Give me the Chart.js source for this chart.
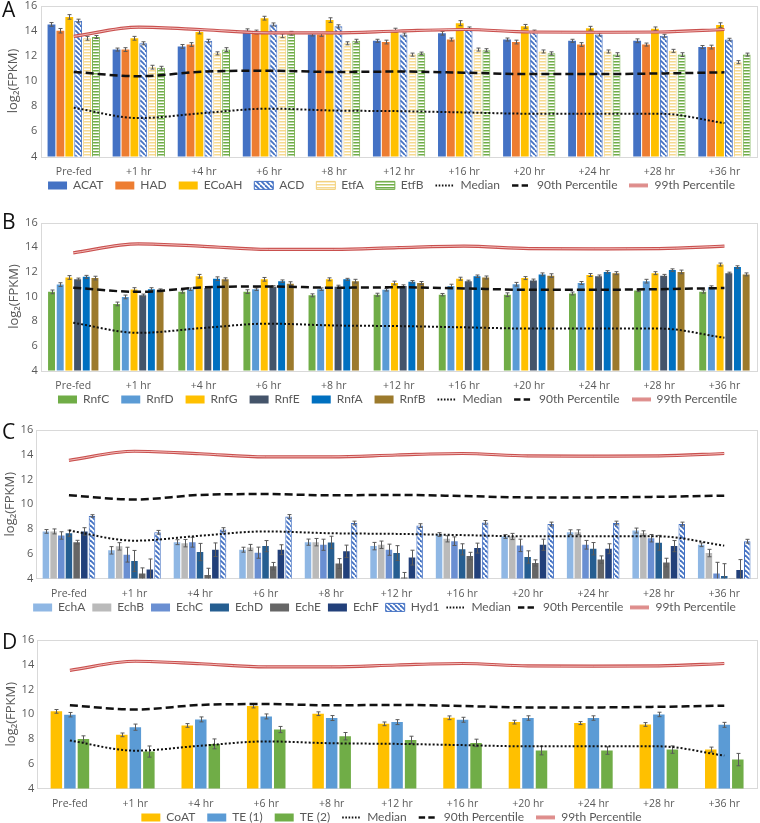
<!DOCTYPE html>
<html>
<head>
<meta charset="utf-8">
<script src="https://cdn.jsdelivr.net/npm/chart.js@4.4.1/dist/chart.umd.min.js"></script>
<style>
  body { margin: 0; background: #fff; width: 760px; height: 823px; position: relative; overflow: hidden; }
  .panel { position: absolute; left: 0; width: 760px; }
  .panel canvas { display: block; }
  .letter { position: absolute; left: 2px; font: 21px "Open Sans", sans-serif; line-height: 21px; color: #111; }
</style>
</head>
<body>
<div class="panel" style="top:-5px"><canvas id="chartA" width="760" height="226"></canvas></div>
<div class="panel" style="top:205px"><canvas id="chartB" width="760" height="230"></canvas></div>
<div class="panel" style="top:410px"><canvas id="chartC" width="760" height="228"></canvas></div>
<div class="panel" style="top:615px"><canvas id="chartD" width="760" height="238"></canvas></div>
<div class="letter" style="top:-1px">A</div>
<div class="letter" style="top:211px">B</div>
<div class="letter" style="top:421px">C</div>
<div class="letter" style="top:631px">D</div>
<script>
// Time points (x axis)
const timePoints = ['Pre-fed', '+1 hr', '+4 hr', '+6 hr', '+8 hr', '+12 hr', '+16 hr', '+20 hr', '+24 hr', '+28 hr', '+36 hr'];
const yTicks = [4, 6, 8, 10, 12, 14, 16];

// Genome-wide reference lines (same in every panel)
const median = [7.87, 7.05, 7.45, 7.8, 7.65, 7.6, 7.5, 7.4, 7.4, 7.4, 6.65];
const pct90 = [10.72, 10.38, 10.75, 10.82, 10.72, 10.75, 10.66, 10.55, 10.55, 10.6, 10.69];
const pct99 = [13.55, 14.28, 14.08, 13.83, 13.83, 13.98, 14.1, 13.9, 13.88, 13.9, 14.1];

// Panel A
const acat = [14.5, 12.5, 12.75, 14.0, 13.7, 13.2, 13.8, 13.3, 13.2, 13.2, 12.7];
const had = [14.0, 12.5, 12.9, 13.9, 13.7, 13.1, 13.3, 13.1, 12.9, 12.9, 12.7];
const ecoah = [15.1, 13.4, 13.9, 15.0, 14.85, 14.05, 14.6, 14.35, 14.2, 14.15, 14.45];
const acd = [14.8, 13.0, 13.2, 14.5, 14.35, 13.7, 14.2, 13.95, 13.7, 13.6, 13.3];
const etfA = [13.4, 11.1, 12.2, 13.6, 13.0, 12.1, 12.5, 12.35, 12.35, 12.4, 11.5];
const etfB = [13.5, 11.05, 12.5, 13.8, 13.2, 12.2, 12.45, 12.2, 12.1, 12.1, 12.1];
const acatErr = [0.15, 0.12, 0.15, 0.15, 0.12, 0.12, 0.15, 0.12, 0.12, 0.15, 0.12];
const hadErr = [0.18, 0.15, 0.15, 0.15, 0.15, 0.15, 0.12, 0.15, 0.15, 0.12, 0.15];
const ecoahErr = [0.18, 0.15, 0.15, 0.15, 0.18, 0.15, 0.2, 0.15, 0.15, 0.15, 0.18];
const acdErr = [0.12, 0.12, 0.12, 0.12, 0.12, 0.12, 0.1, 0.1, 0.12, 0.12, 0.1];
const etfAErr = [0.15, 0.15, 0.12, 0.15, 0.12, 0.12, 0.12, 0.12, 0.12, 0.12, 0.12];
const etfBErr = [0.12, 0.12, 0.15, 0.15, 0.12, 0.1, 0.12, 0.12, 0.15, 0.15, 0.12];

// Panel B
const rnfC = [10.38, 9.4, 10.4, 10.4, 10.1, 10.15, 10.15, 10.15, 10.25, 10.5, 10.4];
const rnfD = [10.97, 9.97, 10.6, 10.6, 10.6, 10.55, 10.85, 11.0, 11.1, 11.25, 10.75];
const rnfG = [11.55, 10.57, 11.65, 11.4, 11.4, 11.1, 11.45, 11.5, 11.75, 11.9, 12.6];
const rnfE = [11.4, 10.1, 10.7, 10.8, 10.8, 10.85, 11.25, 11.3, 11.65, 11.7, 11.9];
const rnfA = [11.6, 10.6, 11.45, 11.25, 11.4, 11.2, 11.65, 11.8, 12.0, 12.15, 12.4];
const rnfB = [11.5, 10.5, 11.4, 11.05, 11.25, 11.1, 11.55, 11.7, 11.9, 12.0, 11.8];
const rnfCErr = [0.15, 0.15, 0.12, 0.15, 0.12, 0.12, 0.1, 0.15, 0.12, 0.1, 0.12];
const rnfDErr = [0.15, 0.15, 0.1, 0.1, 0.1, 0.1, 0.15, 0.15, 0.12, 0.15, 0.12];
const rnfGErr = [0.15, 0.15, 0.15, 0.15, 0.12, 0.15, 0.12, 0.12, 0.12, 0.12, 0.12];
const rnfEErr = [0.1, 0.1, 0.1, 0.08, 0.12, 0.1, 0.08, 0.12, 0.1, 0.1, 0.08];
const rnfAErr = [0.12, 0.12, 0.15, 0.1, 0.08, 0.1, 0.1, 0.12, 0.1, 0.1, 0.1];
const rnfBErr = [0.15, 0.12, 0.12, 0.15, 0.15, 0.12, 0.12, 0.15, 0.12, 0.15, 0.12];

// Panel C
const echA = [7.8, 6.27, 6.93, 6.32, 6.93, 6.61, 7.55, 7.39, 7.73, 7.87, 6.72];
const echB = [7.8, 6.59, 6.85, 6.5, 6.93, 6.72, 7.2, 7.39, 7.73, 7.65, 6.05];
const echC = [7.47, 5.92, 6.93, 6.08, 6.72, 6.32, 7.01, 6.67, 6.72, 7.25, 4.4];
const echD = [7.65, 5.41, 6.13, 6.61, 6.91, 6.05, 6.35, 5.73, 6.4, 6.88, 4.19];
const echE = [6.93, 4.4, 4.27, 4.99, 5.2, 4.08, 5.81, 5.25, 5.52, 5.28, 4.0];
const echF = [7.8, 4.72, 6.32, 6.32, 6.19, 5.68, 6.45, 6.72, 6.4, 6.61, 4.67];
const hyd1 = [9.05, 7.73, 7.95, 9.01, 8.48, 8.27, 8.53, 8.4, 8.48, 8.4, 7.01];
const echAErr = [0.15, 0.3, 0.2, 0.2, 0.25, 0.3, 0.15, 0.15, 0.2, 0.2, 0.15];
const echBErr = [0.2, 0.3, 0.3, 0.25, 0.3, 0.3, 0.25, 0.25, 0.2, 0.2, 0.3];
const echCErr = [0.3, 0.6, 0.4, 0.45, 0.45, 0.45, 0.35, 0.5, 0.35, 0.3, 0.9];
const echDErr = [0.25, 0.85, 0.7, 0.45, 0.5, 0.6, 0.45, 0.5, 0.5, 0.6, 1.0];
const echEErr = [0.15, 0.45, 0.55, 0.3, 0.4, 0.4, 0.3, 0.25, 0.3, 0.35, 0];
const echFErr = [0.3, 0.85, 0.55, 0.4, 0.5, 0.6, 0.4, 0.45, 0.4, 0.45, 0.85];
const hyd1Err = [0.1, 0.15, 0.15, 0.15, 0.15, 0.15, 0.15, 0.15, 0.15, 0.15, 0.15];

// Panel D
const coat = [10.23, 8.33, 9.09, 10.66, 10.04, 9.22, 9.71, 9.36, 9.28, 9.17, 7.14];
const te1 = [9.96, 8.95, 9.58, 9.82, 9.69, 9.36, 9.55, 9.69, 9.69, 9.98, 9.14];
const te2 = [8.0, 6.98, 7.6, 8.76, 8.22, 7.92, 7.68, 7.06, 7.06, 7.14, 6.33];
const coatErr = [0.15, 0.15, 0.15, 0.15, 0.15, 0.15, 0.15, 0.15, 0.12, 0.15, 0.2];
const te1Err = [0.18, 0.25, 0.2, 0.2, 0.2, 0.2, 0.2, 0.18, 0.18, 0.18, 0.2];
const te2Err = [0.25, 0.45, 0.4, 0.25, 0.3, 0.3, 0.3, 0.35, 0.3, 0.3, 0.5];

Chart.defaults.font.family = '"Open Sans", sans-serif';
Chart.defaults.color = '#595959';

// hatch fills
function diagPattern(color) {
  const c = document.createElement('canvas');
  c.width = 5; c.height = 5;
  const g = c.getContext('2d');
  g.fillStyle = '#fff';
  g.fillRect(0, 0, 5, 5);
  g.strokeStyle = color;
  g.lineWidth = 1.8;
  for (let k = -5; k <= 5; k += 5) {
    g.beginPath(); g.moveTo(k, 0); g.lineTo(k + 5, 5); g.stroke();
  }
  return g.createPattern(c, 'repeat');
}
function stripePattern(color) {
  const c = document.createElement('canvas');
  c.width = 4; c.height = 3;
  const g = c.getContext('2d');
  g.fillStyle = '#fff';
  g.fillRect(0, 0, 4, 3);
  g.fillStyle = color;
  g.fillRect(0, 0, 4, 1.5);
  return g.createPattern(c, 'repeat');
}
// legend sample for the red double line
function doubleLineIcon() {
  const c = document.createElement('canvas');
  c.width = 19; c.height = 6;
  const g = c.getContext('2d');
  g.strokeStyle = '#C9504E'; g.lineWidth = 3.2;
  g.beginPath(); g.moveTo(0, 3); g.lineTo(19, 3); g.stroke();
  g.strokeStyle = '#F6C9C8'; g.lineWidth = 1;
  g.beginPath(); g.moveTo(0, 3); g.lineTo(19, 3); g.stroke();
  return c;
}
const redIcon = doubleLineIcon();

function bar(label, data, err, color, pattern, border) {
  return {
    type: 'bar', label: label, data: data, errors: err, order: 1,
    backgroundColor: pattern || color,
    borderColor: border || color,
    borderWidth: border ? 1 : 0
  };
}

function refLines() {
  return [
    { type: 'line', label: 'Median', data: median, order: 0, borderColor: '#111', borderWidth: 2,
      borderDash: [2, 2], pointRadius: 0, cubicInterpolationMode: 'monotone', fill: false },
    { type: 'line', label: '90th Percentile', data: pct90, order: 0, borderColor: '#111', borderWidth: 2.5,
      borderDash: [8, 4], pointRadius: 0, cubicInterpolationMode: 'monotone', fill: false },
    { type: 'line', label: '99th Percentile', data: pct99, order: 0, borderColor: '#C9504E', borderWidth: 3.2,
      pointRadius: 0, cubicInterpolationMode: 'monotone', fill: false, icon: redIcon },
    { type: 'line', label: '99 inner', data: pct99, order: -1, borderColor: '#F6C9C8', borderWidth: 0.9,
      pointRadius: 0, cubicInterpolationMode: 'monotone', fill: false, noLegend: true }
  ];
}

// error bars drawn through the y scale
const errorBars = {
  id: 'errorBars',
  afterDatasetDraw(chart, args) {
    const ds = chart.data.datasets[args.index];
    if (!ds.errors) return;
    const y = chart.scales.y;
    const ctx = chart.ctx;
    ctx.save();
    ctx.strokeStyle = '#5a5a5a';
    ctx.lineWidth = 1;
    args.meta.data.forEach((el, i) => {
      const e = ds.errors[i];
      if (!e) return;
      const x = Math.round(el.x) + 0.5;
      const top = y.getPixelForValue(ds.data[i] + e);
      const bot = Math.min(y.getPixelForValue(ds.data[i] - e), y.bottom);
      ctx.beginPath();
      ctx.moveTo(x, top); ctx.lineTo(x, bot);
      ctx.moveTo(x - 2, top); ctx.lineTo(x + 2, top);
      if (bot < y.bottom) { ctx.moveTo(x - 2, bot); ctx.lineTo(x + 2, bot); }
      ctx.stroke();
    });
    ctx.restore();
  }
};

const plotFrame = {
  id: 'plotFrame',
  beforeDatasetsDraw(chart) {
    const a = chart.chartArea;
    const ctx = chart.ctx;
    ctx.save();
    ctx.strokeStyle = '#D9D9D9';
    ctx.lineWidth = 1;
    ctx.strokeRect(Math.round(a.left) + 0.5, Math.round(a.top) + 0.5, Math.round(a.right - a.left), Math.round(a.bottom - a.top));
    ctx.restore();
  }
};

// pull the legend closer to the axis labels and nudge it sideways
const legendShift = {
  id: 'legendShift',
  afterLayout(chart, args, opts) {
    const lg = chart.legend;
    const k = chart.scales.x.height - (23 - lg.options.labels.padding);
    lg.top -= k;
    lg.bottom -= k;
    lg.left += opts.dx || 0;
    lg.right += opts.dx || 0;
  }
};

function legendLabels(chart) {
  return chart.data.datasets.map((ds, i) => {
    const isLine = ds.type === 'line';
    return {
      text: ds.label, datasetIndex: i, hidden: false, fontColor: '#595959',
      fillStyle: isLine ? 'rgba(0,0,0,0)' : ds.backgroundColor,
      strokeStyle: ds.borderColor,
      lineWidth: isLine ? Math.min(ds.borderWidth, 2.5) : ds.borderWidth,
      lineDash: isLine && ds.borderDash ? [ds.borderDash[0] * 0.8, ds.borderDash[1] * 0.8] : [],
      pointStyle: ds.icon ? ds.icon : (isLine ? 'line' : 'rect')
    };
  }).filter(l => !chart.data.datasets[l.datasetIndex].noLegend);
}

function makeChart(id, bars, opts) {
  new Chart(document.getElementById(id), {
    data: { labels: timePoints, datasets: bars.concat(refLines()) },
    plugins: [plotFrame, errorBars, legendShift],
    options: {
      responsive: false,
      animation: false,
      events: [],
      datasets: { bar: { categoryPercentage: opts.cat, barPercentage: opts.bar } },
      layout: { padding: { top: opts.top, right: 3, left: 0, bottom: 0 } },
      scales: {
        x: {
          grid: { display: false, drawTicks: false },
          border: { display: false },
          ticks: { font: { size: 10.5 }, color: '#595959', padding: 9 }
        },
        y: {
          min: 4, max: 16,
          afterBuildTicks(axis) { axis.ticks = yTicks.map(v => ({ value: v })); },
          grid: { display: false, drawTicks: false },
          border: { display: false },
          ticks: { font: { size: 11 }, color: '#595959', padding: opts.tickPad },
          title: { display: true, text: 'log₂(FPKM)', font: { size: 13 }, color: '#595959', padding: { top: opts.titlePad, bottom: 0 } }
        }
      },
      plugins: {
        legendShift: { dx: opts.legendDx },
        legend: {
          position: 'bottom',
          labels: {
            generateLabels: legendLabels,
            usePointStyle: true,
            pointStyleWidth: 19,
            boxHeight: 8,
            padding: opts.legendPad,
            font: { family: 'Lato, sans-serif', size: 12 },
            color: '#595959'
          }
        },
        tooltip: { enabled: false }
      }
    }
  });
}

const blue = '#4472C4';

makeChart('chartA', [
  bar('ACAT', acat, acatErr, '#4472C4'),
  bar('HAD', had, hadErr, '#ED7D31'),
  bar('ECoAH', ecoah, ecoahErr, '#FFC000'),
  bar('ACD', acd, acdErr, blue, diagPattern(blue), blue),
  bar('EtfA', etfA, etfAErr, '#F6D98F', stripePattern('#F6D98F'), '#F2CF78'),
  bar('EtfB', etfB, etfBErr, '#70AD47', stripePattern('#70AD47'), '#70AD47')
], { cat: 0.82, bar: 0.88, top: 0, titlePad: 5, tickPad: 4, legendPad: 12, legendDx: 13 });

makeChart('chartB', [
  bar('RnfC', rnfC, rnfCErr, '#70AD47'),
  bar('RnfD', rnfD, rnfDErr, '#5B9BD5'),
  bar('RnfG', rnfG, rnfGErr, '#FFC000'),
  bar('RnfE', rnfE, rnfEErr, '#44546A'),
  bar('RnfA', rnfA, rnfAErr, '#0070C0'),
  bar('RnfB', rnfB, rnfBErr, '#9C7A2C')
], { cat: 0.8, bar: 0.8, top: 17.7, titlePad: 6.5, tickPad: 3, legendPad: 12, legendDx: 19 });

makeChart('chartC', [
  bar('EchA', echA, echAErr, '#8FB7E4'),
  bar('EchB', echB, echBErr, '#BABABA'),
  bar('EchC', echC, echCErr, '#6A8FD2'),
  bar('EchD', echD, echDErr, '#255E91'),
  bar('EchE', echE, echEErr, '#666666'),
  bar('EchF', echF, echFErr, '#22407A'),
  bar('Hyd1', hyd1, hyd1Err, blue, diagPattern(blue), blue)
], { cat: 0.82, bar: 0.85, top: 20, titlePad: 2, tickPad: 3, legendPad: 7, legendDx: 6 });

makeChart('chartD', [
  bar('CoAT', coat, coatErr, '#FFC000'),
  bar('TE (1)', te1, te1Err, '#5B9BD5'),
  bar('TE (2)', te2, te2Err, '#70AD47')
], { cat: 0.62, bar: 0.85, top: 25, titlePad: 3, tickPad: 3, legendPad: 12, legendDx: 13 });
</script>
</body>
</html>
